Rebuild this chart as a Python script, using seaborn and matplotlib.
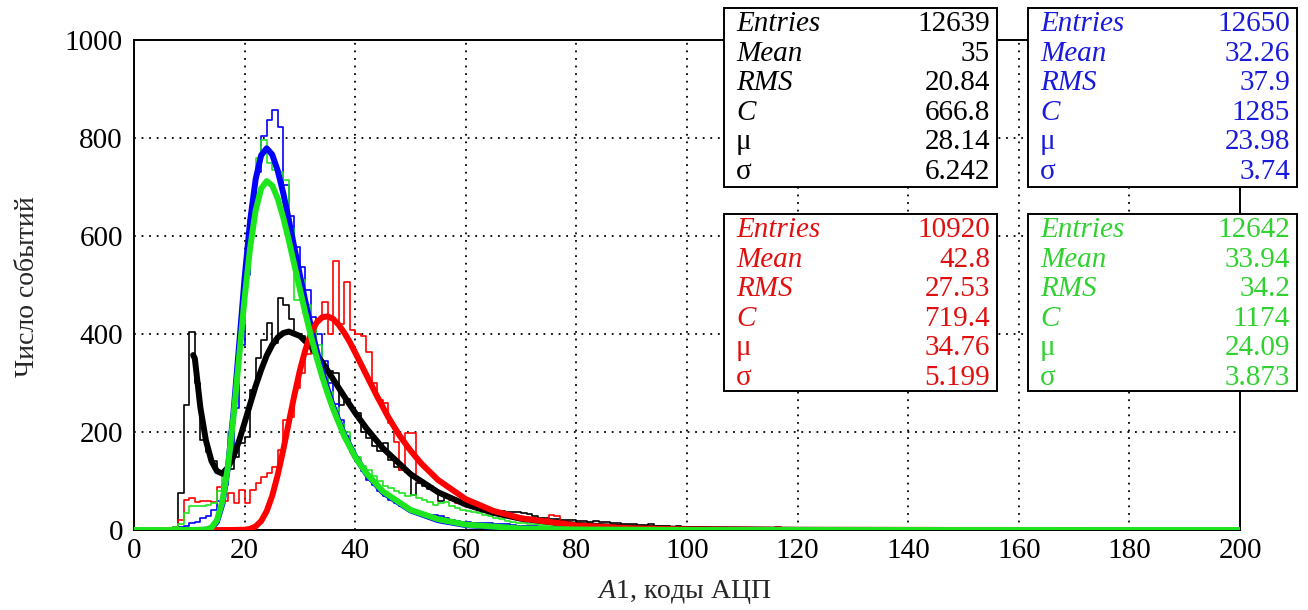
import numpy as np
import pandas as pd
import matplotlib
matplotlib.use("Agg")
import matplotlib.pyplot as plt
from matplotlib.patches import Rectangle
import seaborn as sns

# ---------------- data ----------------
bin_edges = list(range(0, 201, 1))

black_counts = [
    0, 0, 0, 0, 0, 0, 1, 6, 75, 255,
    405, 300, 184, 160, 140, 118, 112, 125, 150, 178,
    190, 285, 352, 388, 422, 381, 473, 459, 431, 400,
    395, 385, 362, 350, 335, 325, 320, 255, 268, 250,
    238, 200, 188, 172, 162, 177, 143, 128, 122, 118,
    72, 95, 90, 84, 80, 60, 70, 63, 58, 55,
    50, 47, 43, 40, 37, 37, 38, 37, 36, 36,
    35, 32, 28, 25, 24, 22, 22, 21, 20, 20,
    18, 19, 17, 18, 16, 17, 14, 14, 13, 12,
    12, 11, 10, 12, 9, 8, 9, 7, 8, 6,
    6, 5, 6, 4, 5, 4, 4, 3, 5, 3,
    3, 4, 2, 3, 3, 2, 3, 2, 2, 3,
    2, 2, 1, 2, 2, 1, 2, 1, 1, 2,
    1, 1, 2, 1, 1, 0, 1, 1, 1, 0,
    1, 0, 1, 1, 0, 1, 0, 0, 1, 0,
    0, 1, 0, 0, 1, 0, 0, 1, 0, 0,
    0, 0, 1, 0, 0, 0, 1, 0, 0, 0,
    1, 0, 0, 0, 0, 1, 0, 0, 0, 0,
    0, 0, 0, 1, 0, 0, 0, 0, 1, 0,
    0, 0, 0, 0, 1, 0, 0, 0, 0, 0]

blue_counts = [
    0, 1, 2, 2, 3, 3, 4, 5, 6, 8,
    15, 17, 25, 28, 40, 60, 92, 150, 250, 378,
    520, 640, 730, 805, 837, 857, 823, 704, 640, 578,
    537, 490, 435, 400, 345, 300, 258, 225, 192, 160,
    140, 120, 102, 92, 80, 70, 62, 55, 48, 45,
    40, 36, 33, 31, 30, 28, 25, 21, 18, 17,
    16, 15, 15, 14, 14, 13, 12, 12, 10, 9,
    9, 8, 8, 7, 7, 6, 6, 6, 5, 5,
    5, 4, 4, 4, 4, 3, 3, 3, 3, 3,
    2, 3, 2, 2, 2, 2, 2, 1, 2, 1,
    1, 1, 2, 1, 1, 1, 0, 1, 1, 0,
    1, 1, 0, 1, 0, 1, 1, 0, 0, 1,
    0, 1, 0, 0, 1, 0, 0, 1, 0, 0,
    1, 0, 0, 0, 1, 0, 0, 0, 0, 1,
    0, 0, 1, 0, 0, 0, 0, 1, 0, 0,
    0, 0, 0, 1, 0, 0, 0, 0, 0, 0,
    1, 0, 0, 0, 0, 0, 0, 0, 1, 0,
    0, 0, 0, 0, 0, 1, 0, 0, 0, 0,
    0, 0, 1, 0, 0, 0, 0, 0, 0, 0,
    0, 0, 0, 0, 0, 0, 1, 0, 0, 0]

red_counts = [
    0, 0, 0, 0, 0, 0, 0, 2, 20, 62,
    65, 58, 60, 60, 58, 88, 60, 75, 55, 82,
    55, 82, 95, 108, 116, 129, 163, 224, 231, 290,
    320, 360, 420, 430, 466, 400, 548, 420, 506, 408,
    400, 395, 363, 300, 266, 260, 218, 180, 122, 198,
    198, 100, 95, 90, 80, 75, 70, 62, 55, 55,
    50, 45, 40, 38, 35, 33, 30, 28, 26, 25,
    24, 22, 23, 20, 22, 30, 28, 18, 15, 14,
    13, 12, 12, 11, 10, 10, 9, 9, 8, 8,
    7, 7, 6, 6, 6, 5, 5, 5, 4, 4,
    4, 3, 4, 3, 3, 2, 3, 2, 2, 3,
    2, 2, 1, 2, 2, 1, 6, 2, 1, 1,
    1, 2, 1, 1, 1, 0, 5, 1, 0, 1,
    1, 0, 1, 0, 1, 1, 0, 0, 1, 0,
    0, 1, 0, 0, 1, 0, 0, 0, 1, 0,
    0, 0, 1, 0, 0, 0, 0, 1, 0, 0,
    0, 0, 0, 1, 0, 0, 0, 0, 0, 1,
    0, 0, 0, 0, 1, 0, 0, 0, 0, 0,
    0, 1, 0, 0, 0, 0, 0, 0, 1, 0,
    0, 0, 0, 0, 0, 1, 0, 0, 0, 0]

green_counts = [
    0, 1, 1, 2, 3, 3, 4, 6, 12, 35,
    50, 50, 48, 52, 55, 80, 120, 200, 300, 420,
    560, 650, 760, 795, 750, 735, 730, 715, 615, 470,
    510, 460, 420, 378, 322, 282, 250, 216, 200, 165,
    148, 130, 122, 110, 100, 90, 85, 80, 76, 70,
    72, 65, 62, 58, 52, 55, 58, 50, 45, 40,
    38, 36, 35, 30, 28, 25, 22, 18, 17, 15,
    14, 13, 12, 11, 10, 10, 9, 8, 8, 7,
    7, 6, 6, 5, 5, 5, 4, 4, 4, 3,
    3, 3, 3, 3, 2, 2, 2, 2, 2, 2,
    2, 1, 1, 2, 1, 1, 1, 1, 0, 1,
    1, 0, 1, 1, 0, 1, 0, 1, 0, 0,
    1, 0, 0, 1, 0, 0, 1, 0, 0, 0,
    0, 1, 0, 0, 0, 1, 0, 0, 0, 0,
    1, 0, 0, 0, 0, 0, 1, 0, 0, 0,
    0, 0, 1, 0, 0, 0, 0, 0, 0, 1,
    0, 0, 0, 0, 1, 0, 0, 0, 0, 0,
    0, 0, 0, 1, 0, 0, 0, 0, 0, 0,
    1, 0, 0, 0, 0, 0, 0, 1, 0, 0,
    0, 0, 0, 0, 0, 0, 0, 0, 1, 0]

# fitted curves, values
black_fit_x = [10.7, 11, 12, 13, 14, 15, 16, 17, 18, 19, 20, 21, 22, 23, 24, 25, 26, 27, 28,
               30, 32, 34, 36, 38, 40, 42, 45, 50, 55, 60, 65, 70, 80, 90, 100, 120, 150, 200]
black_fit_y = [357, 350, 250, 183, 141, 120, 115, 128, 150, 182, 219, 257, 294, 327, 356, 378, 393, 402, 405,
               396, 374, 343, 308, 273, 239, 208, 167, 114, 77, 52, 35, 23, 10.5, 4.7, 2.1, 0.4, 0, 0]

blue_fit_x = [0, 10, 12, 13, 14, 15, 16, 17, 18, 19, 20, 21, 22, 23, 24, 25, 26, 27, 28, 29,
              30, 31, 32, 33, 34, 35, 36, 38, 40, 42, 45, 50, 55, 60, 70, 80, 100, 200]
blue_fit_y = [0, 0, 0, 0.5, 3.7, 17, 54, 129, 241, 376, 514, 631, 716, 765, 779, 766, 733, 687, 633, 576,
              520, 466, 415, 368, 325, 287, 252, 195, 150, 115, 77, 40, 20, 10, 3, 1, 0, 0]

red_fit_x = [0, 18, 20, 21, 22, 23, 24, 25, 26, 27, 28, 29, 30, 31, 32, 33, 34, 35, 36, 37, 38, 39, 40,
             42, 44, 45, 46, 48, 50, 52, 55, 60, 65, 70, 80, 90, 100, 120, 200]
red_fit_y = [0, 0, 0.6, 2.3, 7.3, 18.3, 38.6, 70, 113, 164, 220, 275, 326, 368, 401, 423, 434, 436, 431, 419, 403, 384, 362,
             317, 272, 251, 230, 193, 162, 135, 102, 63, 39, 24, 9.3, 3.5, 1.3, 0.2, 0]

green_fit_x = [0, 10, 13, 14, 15, 16, 17, 18, 19, 20, 21, 22, 23, 24, 25, 26, 27, 28, 29,
               30, 31, 32, 33, 34, 35, 36, 38, 40, 42, 45, 50, 55, 60, 70, 80, 100, 200]
green_fit_y = [0, 0, 0.8, 5, 20, 59, 130, 232, 352, 473, 576, 652, 697, 712, 703, 676, 637, 591, 541,
               491, 442, 396, 353, 314, 279, 247, 192, 149, 116, 79, 41, 22, 11, 3, 1, 0, 0]

stat_labels = ["Entries", "Mean", "RMS", "C", "\u03bc", "\u03c3"]
black_stats = ["12639", "35", "20.84", "666.8", "28.14", "6.242"]
blue_stats = ["12650", "32.26", "37.9", "1285", "23.98", "3.74"]
red_stats = ["10920", "42.8", "27.53", "719.4", "34.76", "5.199"]
green_stats = ["12642", "33.94", "34.2", "1174", "24.09", "3.873"]

x_label = "$\\mathit{A}$1, коды АЦП"
y_label = "Число событий"

# ---------------- style ----------------
sns.set_style("white")
plt.rcParams["font.family"] = ["Liberation Serif", "DejaVu Serif"]
plt.rcParams["mathtext.fontset"] = "custom"
plt.rcParams["mathtext.rm"] = "Liberation Serif"
plt.rcParams["mathtext.it"] = "Liberation Serif:italic"

C_BLACK = "#000000"
C_BLUE = "#0000ff"
C_RED = "#ff0000"
C_GREEN = "#1ee61e"
T_BLUE = "#1a1adc"
T_RED = "#e01010"
T_GREEN = "#2fd22f"

W, H = 1308, 610
fig = plt.figure(figsize=(W / 100, H / 100), dpi=100)
ax = fig.add_axes([134 / W, 80 / H, 1106 / W, 490 / H])

centers = [e + 0.5 for e in bin_edges[:-1]]
series = [(black_counts, C_BLACK), (blue_counts, C_BLUE), (red_counts, C_RED), (green_counts, C_GREEN)]
for counts, col in series:
    df = pd.DataFrame({"amp": centers, "n": [float(c) for c in counts]})
    sns.histplot(data=df, x="amp", weights="n", bins=bin_edges, element="step", fill=False,
                 color=col, linewidth=1.2, ax=ax, zorder=3)

fits = [(black_fit_x, black_fit_y, C_BLACK), (blue_fit_x, blue_fit_y, C_BLUE),
        (red_fit_x, red_fit_y, C_RED), (green_fit_x, green_fit_y, C_GREEN)]
for fx, fy, col in fits:
    dff = pd.DataFrame({"x": fx, "y": fy})
    sns.lineplot(data=dff, x="x", y="y", color=col, linewidth=4.3, ax=ax,
                 estimator=None, sort=False, zorder=4)

ax.set_xlim(0, 200)
ax.set_ylim(0, 1000)
ax.set_xlabel("")
ax.set_ylabel("")
ax.set_xticks(np.arange(0, 201, 20))
ax.set_xticks(np.arange(0, 201, 5), minor=True)
ax.set_yticks(np.arange(0, 1001, 200))
ax.set_yticks(np.arange(0, 1001, 50), minor=True)
ax.tick_params(axis="x", which="major", direction="in", length=9.5, width=1.2, labelsize=21, pad=6, colors="black")
ax.tick_params(axis="x", which="minor", direction="in", length=4.8, width=1.2)
ax.tick_params(axis="y", which="major", direction="in", length=21.5, width=1.2, labelsize=21, pad=8, colors="black")
ax.tick_params(axis="y", which="minor", direction="in", length=11.3, width=1.2)
ax.grid(True, which="major", color="black", linestyle=(0, (1, 3.2)), linewidth=1.3)
for s in ax.spines.values():
    s.set_visible(True)
    s.set_color("black")
    s.set_linewidth(1.4)

fig.text(28 / W, 1 - 287 / H, y_label, rotation=90, ha="center", va="center", fontsize=20)
fig.text(684 / W, 1 - 592 / H, x_label, ha="center", va="center", fontsize=20)

# ---------------- stat boxes ----------------
boxes = [((724, 8, 997, 187), black_stats, "black"),
         ((1028, 8, 1297, 187), blue_stats, T_BLUE),
         ((724, 214, 997, 391), red_stats, T_RED),
         ((1028, 214, 1297, 391), green_stats, T_GREEN)]
for (x0, y0, x1, y1), vals, col in boxes:
    fig.patches.append(Rectangle((x0 / W, 1 - y1 / H), (x1 - x0) / W, (y1 - y0) / H,
                                 transform=fig.transFigure, facecolor="white",
                                 edgecolor="black", linewidth=1.4, zorder=10))
    for i, (lab, v) in enumerate(zip(stat_labels, vals)):
        yc = y0 + 16 + i * 29.6
        style = "italic" if i < 4 else "normal"
        fig.text((x0 + 12) / W, 1 - yc / H, lab, ha="left", va="center", fontsize=21,
                 style=style, color=col, zorder=11)
        fig.text((x1 - 7) / W, 1 - yc / H, v, ha="right", va="center", fontsize=21,
                 color=col, zorder=11)

fig.savefig("out.png", dpi=100)
